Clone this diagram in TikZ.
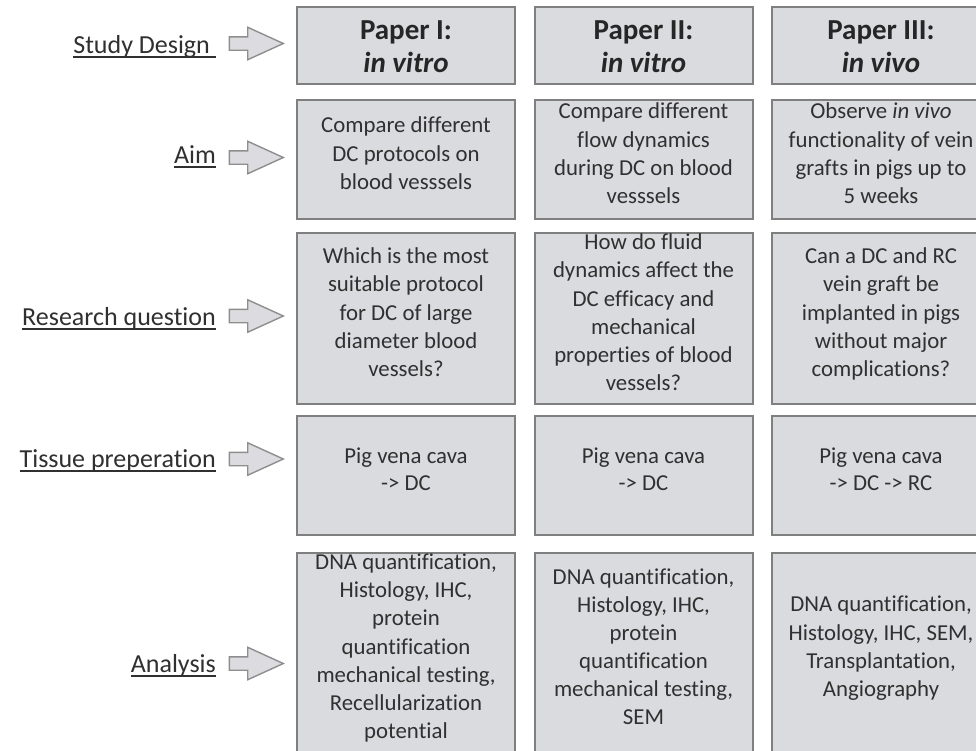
\documentclass[tikz,border=0pt]{standalone}
\usepackage{fontspec}
\setmainfont{Carlito}[Ligatures=NoCommon]
\usepackage{xcolor}
\usepackage{array}
\usepackage{tikz}
\usetikzlibrary{shapes.arrows}
\definecolor{cellfill}{HTML}{DADBDF}
\definecolor{cellline}{HTML}{7F7F7F}
\definecolor{arrowfill}{HTML}{DCDCE0}
\definecolor{arrowline}{HTML}{8E8E8E}
\definecolor{inkgray}{HTML}{303030}
\newsavebox{\labbox}
\newcommand{\labline}[1]{\sbox\labbox{#1}\rlap{\rule[-4.5pt]{\wd\labbox}{1.5pt}}\usebox\labbox}
% one row per line, baseline in the middle of the row
\newcolumntype{B}{>{\rule[-12.4pt]{0pt}{24.8pt}}c}
\newcolumntype{H}{>{\rule[-5.7pt]{0pt}{33pt}}c}
\newcommand{\celllines}[1]{{\renewcommand{\arraystretch}{0}\begin{tabular}{@{}B@{}}#1\end{tabular}}}
\newcommand{\headlines}[1]{{\renewcommand{\arraystretch}{0}\begin{tabular}{@{}H@{}}#1\end{tabular}}}

\begin{document}
\begin{tikzpicture}[x=1pt,y=-1pt,
  cell/.style={draw=cellline,line width=2pt,fill=cellfill,text=inkgray,
    minimum width=218pt,inner sep=0pt,
    font=\fontsize{22.8pt}{27.7pt}\selectfont},
  headcell/.style={cell,text=black!85,font=\fontsize{29pt}{33pt}\selectfont\bfseries},
  rowlabel/.style={anchor=base east,inner sep=0pt,text=inkgray,
    font=\fontsize{26pt}{31pt}\selectfont},
  blockarrow/.style={single arrow,draw=arrowline,line width=1.4pt,fill=arrowfill,
    minimum height=54pt,inner xsep=0pt,inner ysep=6pt,anchor=tip,
    single arrow head extend=9.5pt,single arrow tip angle=49}]
\useasboundingbox (0,0) rectangle (976,750);
\clip (0,0) rectangle (976,750);
\fill[white] (0,0) rectangle (976,750);

% row labels
\node[rowlabel] (labDesign) at (216,53) {\labline{Study Design\ }};
\node[rowlabel] (labAim) at (216,163) {\labline{Aim}};
\node[rowlabel] (labQuestion) at (216,325) {\labline{Research question}};
\node[rowlabel] (labTissue) at (216,467) {\labline{Tissue preperation}};
\node[rowlabel] (labAnalysis) at (216,672) {\labline{Analysis}};

% block arrows
\node[blockarrow] (arrDesign) at (285,43.5) {};
\node[blockarrow] (arrAim) at (285,157.5) {};
\node[blockarrow] (arrQuestion) at (285,316) {};
\node[blockarrow] (arrTissue) at (285,459) {};
\node[blockarrow] (arrAnalysis) at (285,663.5) {};

% study design
\node[headcell,minimum height=77pt] (headI) at (406,45.5) {\headlines{Paper I:\\\textit{in vitro}}};
\node[headcell,minimum height=77pt] (headII) at (643.5,45.5) {\headlines{Paper II:\\\textit{in vitro}}};
\node[headcell,minimum height=77pt] (headIII) at (881,45.5) {\headlines{Paper III:\\\textit{in vivo}}};

% aim
\node[cell,minimum height=119pt] (aimI) at (406,159.5)
  {\celllines{Compare different\\DC protocols on\\blood vesssels}};
\node[cell,minimum height=119pt] (aimII) at (643.5,159.5)
  {\celllines{Compare different\\flow dynamics\\during DC on blood\\vesssels}};
\node[cell,minimum height=119pt] (aimIII) at (881,159.5)
  {\celllines{Observe \textit{in vivo}\\functionality of vein\\grafts in pigs up to\\5 weeks}};

% research question
\node[cell,minimum height=171pt] (quesI) at (406,318.5)
  {\celllines{Which is the most\\suitable protocol\\for DC of large\\diameter blood\\vessels?}};
\node[cell,minimum height=171pt] (quesII) at (643.5,318.5)
  {\celllines{How do fluid\\dynamics affect the\\DC efficacy and\\mechanical\\properties of blood\\vessels?}};
\node[cell,minimum height=171pt] (quesIII) at (881,318.5)
  {\celllines{Can a DC and RC\\vein graft be\\implanted in pigs\\without major\\complications?}};

% tissue preperation
\node[cell,minimum height=119pt] (tissI) at (406,475.5) {\celllines{Pig vena cava\\-> DC}};
\node[cell,minimum height=119pt] (tissII) at (643.5,475.5) {\celllines{Pig vena cava\\-> DC}};
\node[cell,minimum height=119pt] (tissIII) at (881,475.5) {\celllines{Pig vena cava\\-> DC -> RC}};

% analysis
\node[cell,minimum height=199pt] (anaI) at (406,652.5)
  {\celllines{DNA quantification,\\Histology, IHC,\\protein\\quantification\\mechanical testing,\\Recellularization\\potential}};
\node[cell,minimum height=199pt] (anaII) at (643.5,652.5)
  {\celllines{DNA quantification,\\Histology, IHC,\\protein\\quantification\\mechanical testing,\\SEM}};
\node[cell,minimum height=199pt] (anaIII) at (881,652.5)
  {\celllines{DNA quantification,\\Histology, IHC, SEM,\\Transplantation,\\Angiography}};
\end{tikzpicture}
\end{document}
